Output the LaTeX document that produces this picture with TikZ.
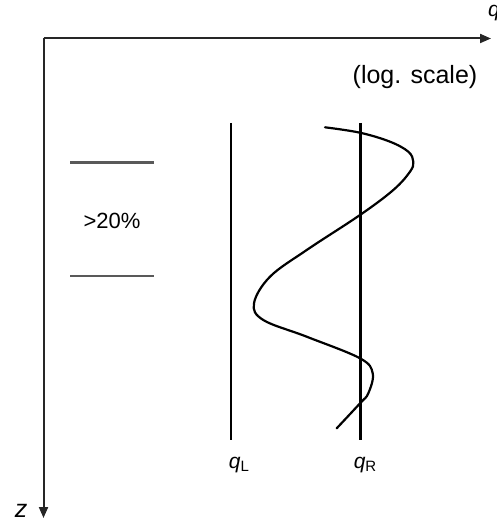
\documentclass[tikz,border=0pt]{standalone}
\usepackage{fontspec}
\setmainfont{Liberation Sans}
\usetikzlibrary{arrows.meta}
\begin{document}
\begin{tikzpicture}[x=1pt,y=-1pt,
  axis/.style={line width=2pt,draw=black!85,-{Triangle[length=11pt,width=9pt]}},
  qline/.style={line width=2.2pt,black},
  bar/.style={line width=2.2pt,black!65},
  lbl/.style={inner sep=0pt,font=\fontsize{22}{26}\selectfont},
  qlbl/.style={inner sep=0pt,font=\fontsize{21}{24}\selectfont}]
\useasboundingbox (0,0) rectangle (496,526);
\coordinate (O) at (43.5,38.5);
\coordinate (X) at (491,38.5);
\coordinate (Z) at (43.5,518);
\draw[axis] (O) -- (X);
\draw[axis] (O) -- (Z);
\node[qlbl,anchor=west] (xl) at (488,13) {\itshape q};
\node[qlbl,font=\fontsize{25}{28}\selectfont] (zl) at (21,511) {\itshape z};
\node[lbl,font=\fontsize{25}{28}\selectfont] (scale) at (415,77) {(log. scale)};
\coordinate (b1a) at (70,162.5);
\coordinate (b1b) at (154,162.5);
\coordinate (b2a) at (70,276);
\coordinate (b2b) at (154,276);
\draw[bar] (b1a) -- (b1b);
\draw[bar] (b2a) -- (b2b);
\node[lbl] (pct) at (112,221) {>20\%};
\coordinate (lt) at (231,123);
\coordinate (lb) at (231,440);
\coordinate (rt) at (360.5,123);
\coordinate (rb) at (360.5,440);
\draw[qline] (lt) -- (lb);
\draw[qline] (rt) -- (rb);
\node[qlbl] (qL) at (239,465) {\itshape q\normalfont\raisebox{-3pt}{\fontsize{15}{17}\selectfont L}};
\node[qlbl] (qR) at (365,465) {\itshape q\normalfont\raisebox{-3pt}{\fontsize{15}{17}\selectfont R}};
\draw[line width=2.2pt,black,line cap=round] plot[smooth,tension=0.6] coordinates {
 (325,127.3) (360,132.7) (390,141.7) (408.3,151.7) (413.3,161.7) (410,171.7)
 (393.3,190) (360,215) (306.7,250) (270,276.7) (254,303.3) (263.3,320)
 (306.7,336.7) (360,358.3) (372.7,373.3) (368.3,393.3) (360,403.3) (336.7,428.3)};
\end{tikzpicture}
\end{document}
